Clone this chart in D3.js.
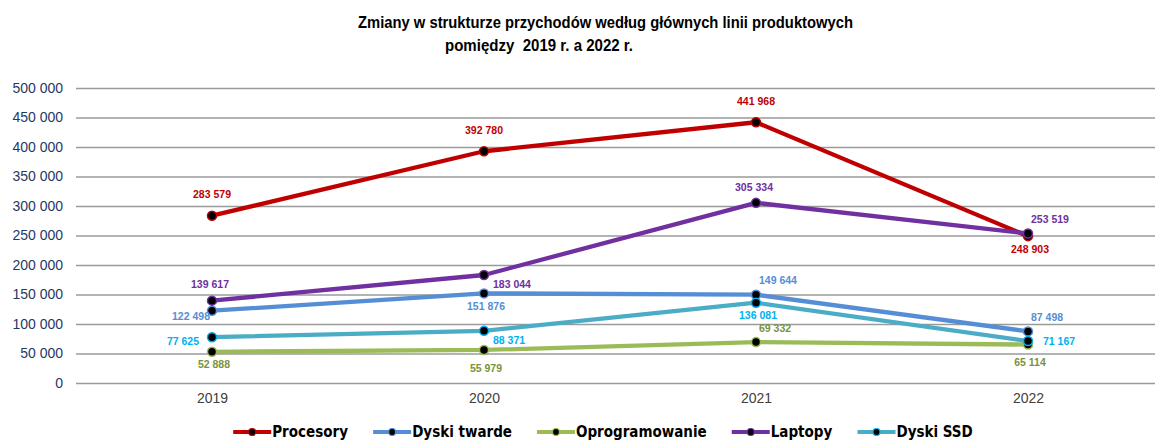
<!DOCTYPE html>
<html>
<head>
<meta charset="utf-8">
<script src="https://cdn.jsdelivr.net/npm/d3@7"></script>
<style>
  body { margin: 0; background: #fff; }
  svg { display: block; }
  .title { font-family: "Liberation Sans", Arial, sans-serif; font-weight: bold; font-size: 17px; fill: #000; }
  .yaxis text { font-family: "Liberation Sans", Arial, sans-serif; font-size: 14px; fill: #1F3864; }
  .xaxis text { font-family: "Liberation Sans", Arial, sans-serif; font-size: 14px; fill: #404040; }
  .lbl { font-family: "Liberation Sans", Arial, sans-serif; font-weight: bold; font-size: 10.5px; }
  .legend text { font-family: "DejaVu Sans Condensed", "DejaVu Sans", sans-serif; font-weight: bold; font-size: 15px; fill: #000; }
</style>
</head>
<body>
<svg id="chart" width="1155" height="441"></svg>
<script>
// chart data
var years = ["2019", "2020", "2021", "2022"];
var seriesNames = ["Procesory", "Dyski twarde", "Oprogramowanie", "Laptopy", "Dyski SSD"];
var procesory = [283579, 392780, 441968, 248903];
var dyskiTwarde = [122498, 151876, 149644, 87498];
var oprogramowanie = [52888, 55979, 69332, 65114];
var laptopy = [139617, 183044, 305334, 253519];
var dyskiSSD = [77625, 88371, 136081, 71167];
var yTicks = [0, 50000, 100000, 150000, 200000, 250000, 300000, 350000, 400000, 450000, 500000];

// where each value label sits relative to its point
var placeProcesory = ["above", "above", "above", "below"];
var placeDyskiTwarde = ["belowLeft", "below", "aboveRight", "aboveRight"];
var placeOprogramowanie = ["below", "belowFar", "aboveRight", "belowFar"];
var placeLaptopy = ["aboveNear", "belowRight", "aboveNear", "aboveRight"];
var placeDyskiSSD = ["left", "belowRight", "below", "right"];

var lineColors = ["#C00000", "#558ED5", "#9BBB59", "#7030A0", "#4BACC6"];
var labelColors = ["#C00000", "#558ED5", "#77933C", "#7030A0", "#00B0F0"];
var markerStroke = ["#C00000", "#558ED5", "#9BBB59", "#7030A0", "#00B0F0"];

var PLOT_LEFT = 76;
var PLOT_TOP = 88;
var PLOT_BOTTOM = 383;

var offsets = {
	above:      { dx: 0,   dy: -21, anchor: "middle" },
	aboveNear:  { dx: -2,  dy: -16, anchor: "middle" },
	below:      { dx: 2,   dy: 13,  anchor: "middle" },
	belowFar:   { dx: 2,   dy: 18,  anchor: "middle" },
	left:       { dx: -13, dy: 4,   anchor: "end" },
	right:      { dx: 15,  dy: 0,   anchor: "start" },
	aboveRight: { dx: 3,   dy: -14, anchor: "start" },
	belowRight: { dx: 9,   dy: 9,   anchor: "start" },
	belowLeft:  { dx: -2,  dy: 6,   anchor: "end" }
};

var allValues = [procesory, dyskiTwarde, oprogramowanie, laptopy, dyskiSSD];
var allPlaces = [placeProcesory, placeDyskiTwarde, placeOprogramowanie, placeLaptopy, placeDyskiSSD];

var series = seriesNames.map(function(name, i) {
	return {
		name: name,
		color: lineColors[i],
		labelColor: labelColors[i],
		markerStroke: markerStroke[i],
		points: years.map(function(y, j) {
			return { year: y, value: allValues[i][j], place: allPlaces[i][j] };
		})
	};
});

var fmt = d3.formatLocale({ decimal: ",", thousands: " ", grouping: [3], currency: ["", " zł"] }).format(",d");

var svg = d3.select("#chart");

var x = d3.scalePoint()
	.domain(years)
	.range([212, 1028]);

var y = d3.scaleLinear()
	.domain([0, 500000])
	.range([PLOT_BOTTOM, PLOT_TOP]);

// title (the original is a condensed bold face, so squeeze it to its width)
var title = svg.append("text").attr("class", "title");
title.append("tspan")
	.attr("x", 358).attr("y", 28)
	.attr("textLength", 495)
	.attr("lengthAdjust", "spacingAndGlyphs")
	.text("Zmiany w strukturze przychodów według głównych linii produktowych");
title.append("tspan")
	.attr("x", 445).attr("y", 51)
	.attr("xml:space", "preserve")
	.attr("textLength", 188)
	.attr("lengthAdjust", "spacingAndGlyphs")
	.text("pomiędzy  2019 r. a 2022 r.");

// y axis + gridlines
var yAxis = svg.append("g")
	.attr("class", "yaxis")
	.attr("transform", "translate(" + PLOT_LEFT + ",0)")
	.call(d3.axisLeft(y)
		.tickValues(yTicks)
		.tickSize(-(1160 - PLOT_LEFT))
		.tickPadding(13)
		.tickFormat(fmt));

yAxis.select(".domain").remove();
yAxis.selectAll(".tick line")
	.attr("stroke", "#9A9A9A")
	.attr("stroke-width", 1.6);

// x axis labels
var xAxis = svg.append("g")
	.attr("class", "xaxis")
	.attr("transform", "translate(0," + PLOT_BOTTOM + ")")
	.call(d3.axisBottom(x).tickSize(0).tickPadding(10));

xAxis.select(".domain").remove();

// lines
var line = d3.line()
	.x(function(d) { return x(d.year); })
	.y(function(d) { return y(d.value); });

var groups = svg.selectAll(".series")
	.data(series)
	.enter()
	.append("g")
	.attr("class", "series");

groups.append("path")
	.attr("d", function(d) { return line(d.points); })
	.attr("fill", "none")
	.attr("stroke", function(d) { return d.color; })
	.attr("stroke-width", 4.3)
	.attr("stroke-linejoin", "round")
	.attr("stroke-linecap", "round");

groups.selectAll("circle")
	.data(function(d) { return d.points.map(function(p) { return { p: p, s: d }; }); })
	.enter()
	.append("circle")
	.attr("cx", function(d) { return x(d.p.year); })
	.attr("cy", function(d) { return y(d.p.value); })
	.attr("r", 4.5)
	.attr("fill", "#000")
	.attr("stroke", function(d) { return d.s.markerStroke; })
	.attr("stroke-width", 1.5);

// value labels
groups.selectAll(".lbl")
	.data(function(d) { return d.points.map(function(p) { return { p: p, s: d }; }); })
	.enter()
	.append("text")
	.attr("class", "lbl")
	.attr("x", function(d) { return x(d.p.year) + offsets[d.p.place].dx; })
	.attr("y", function(d) { return y(d.p.value) + offsets[d.p.place].dy; })
	.attr("dy", "0.35em")
	.attr("text-anchor", function(d) { return offsets[d.p.place].anchor; })
	.attr("fill", function(d) { return d.s.labelColor; })
	.text(function(d) { return fmt(d.p.value); });

// legend
var legend = svg.append("g").attr("class", "legend");
var LEGEND_Y = 432;
var SWATCH = 38;
var GAP = 25;

var items = legend.selectAll(".item")
	.data(series)
	.enter()
	.append("g")
	.attr("class", "item");

items.append("line")
	.attr("x1", 0)
	.attr("x2", SWATCH)
	.attr("y1", 0)
	.attr("y2", 0)
	.attr("stroke", function(d) { return d.color; })
	.attr("stroke-width", 4);

items.append("circle")
	.attr("cx", SWATCH / 2)
	.attr("cy", 0)
	.attr("r", 3.5)
	.attr("fill", "#000")
	.attr("stroke", function(d) { return d.markerStroke; })
	.attr("stroke-width", 1.2);

items.append("text")
	.attr("x", SWATCH + 1)
	.attr("y", 0)
	.attr("dy", "0.35em")
	.text(function(d) { return d.name; });

var widths = [];
items.each(function() { widths.push(this.getBBox().width); });
var total = d3.sum(widths) + GAP * (widths.length - 1);
var cursor = 603 - total / 2;
items.attr("transform", function(d, i) {
	var t = "translate(" + cursor + "," + LEGEND_Y + ")";
	cursor += widths[i] + GAP;
	return t;
});
</script>
</body>
</html>
